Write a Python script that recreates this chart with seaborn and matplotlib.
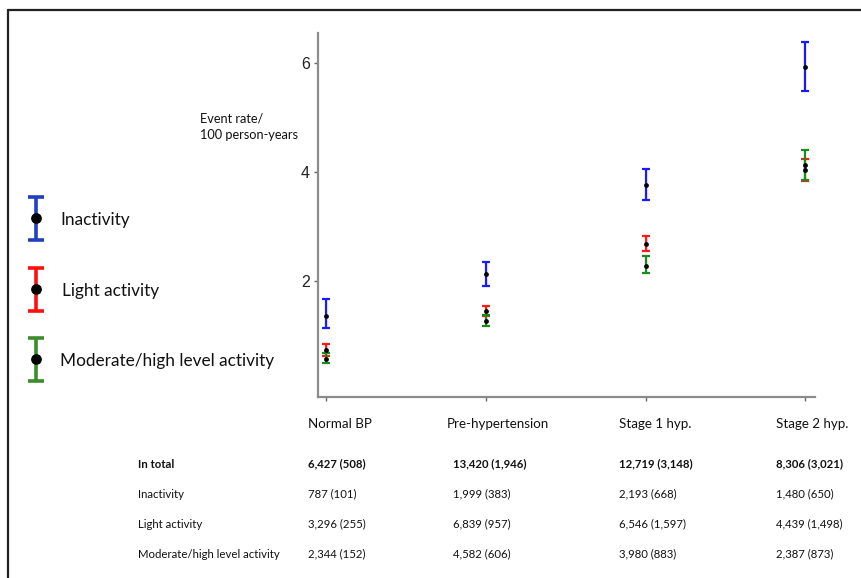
import numpy as np
import pandas as pd
import matplotlib.pyplot as plt
import seaborn as sns

# event rates per 100 person-years, with 95% CI
categories = ['Normal BP', 'Pre-hypertension', 'Stage 1 hyp.', 'Stage 2 hyp.']
groups = ['Inactivity', 'Light activity', 'Moderate/high level activity']

inactivity_rate = [1.36, 2.12, 3.76, 5.92]
inactivity_lo = [1.13, 1.91, 3.48, 5.49]
inactivity_hi = [1.66, 2.34, 4.06, 6.39]

light_rate = [0.73, 1.44, 2.68, 4.12]
light_lo = [0.62, 1.35, 2.55, 3.83]
light_hi = [0.84, 1.54, 2.83, 4.23]

moderate_rate = [0.56, 1.27, 2.28, 4.03]
moderate_lo = [0.49, 1.17, 2.15, 3.85]
moderate_hi = [0.67, 1.38, 2.45, 4.40]

yticks = [2, 4, 6]

# counts table under the plot: n (events)
row_labels = ['In total', 'Inactivity', 'Light activity', 'Moderate/high level activity']
n_total = ['6,427 (508)', '13,420 (1,946)', '12,719 (3,148)', '8,306 (3,021)']
n_inactivity = ['787 (101)', '1,999 (383)', '2,193 (668)', '1,480 (650)']
n_light = ['3,296 (255)', '6,839 (957)', '6,546 (1,597)', '4,439 (1,498)']
n_moderate = ['2,344 (152)', '4,582 (606)', '3,980 (883)', '2,387 (873)']

plot_colors = ['#1a1aff', '#ff1a1a', '#1a8c1a']
legend_colors = ['#2040c0', '#ff1010', '#3c8c2c']

df = pd.DataFrame({
    'cat': np.tile(np.arange(len(categories)), 3),
    'group': np.repeat(groups, len(categories)),
    'rate': inactivity_rate + light_rate + moderate_rate,
    'lo': inactivity_lo + light_lo + moderate_lo,
    'hi': inactivity_hi + light_hi + moderate_hi,
})

sns.set_style('white')
plt.rcParams['font.family'] = ['Liberation Sans', 'DejaVu Sans']
txt_font = ['Lato', 'DejaVu Sans']

W, H = 862, 578
fig = plt.figure(figsize=(W / 100, H / 100), dpi=100)

# main plot area
ax = fig.add_axes([318 / W, 1 - 397 / H, (815 - 318) / W, (397 - 33) / H])
for g, c in zip(groups, plot_colors):
    d = df[df['group'] == g]
    ax.errorbar(d['cat'], d['rate'], yerr=[d['rate'] - d['lo'], d['hi'] - d['rate']],
                fmt='none', ecolor=c, elinewidth=1.6, capsize=3.2, capthick=1.6, zorder=2)
sns.scatterplot(data=df, x='cat', y='rate', color='black', s=12, edgecolor='black',
                linewidth=0, legend=False, zorder=3, ax=ax)

ax.set_xlim(-0.05, 3.06)
ax.set_ylim(-0.13, 6.55)
ax.set_yticks(yticks)
ax.set_yticklabels([str(t) for t in yticks], fontsize=11.5, color='#222222')
ax.set_xticks(range(len(categories)))
ax.set_xticklabels([])
ax.set_xlabel('')
ax.set_ylabel('')
for s in ['top', 'right']:
    ax.spines[s].set_visible(False)
for s in ['left', 'bottom']:
    ax.spines[s].set_color('#8c8c8c')
    ax.spines[s].set_linewidth(1.6)
ax.tick_params(axis='both', direction='out', length=3, width=1, color='#666666', pad=3,
               left=True, bottom=True)

# overlay in pixel coordinates for legend, table and frame
ov = fig.add_axes([0, 0, 1, 1], zorder=-1)
ov.set_xlim(0, W)
ov.set_ylim(H, 0)
ov.axis('off')

ov.plot([8.5, 8.5], [10, H], color='#222222', lw=1.6)
ov.plot([8, W], [10, 10], color='#222222', lw=1.6)

ov.text(200, 127, 'Event rate/\n100 person-years', fontsize=9.2, family=txt_font,
        va='center', ha='left', linespacing=1.45, color='#111111')

# legend drawn by hand: vertical error bar glyphs
leg_y = [218, 289, 359]
for lbl, c, yc in zip(groups, legend_colors, leg_y):
    ov.errorbar([36], [yc], yerr=[[21], [22]], fmt='none', ecolor=c, elinewidth=2.6,
                capsize=5.5, capthick=2.6)
    ov.scatter([36], [yc], s=45, color='black', zorder=3)
    ov.text(60 if lbl != 'Light activity' else 62, yc + 2, lbl, fontsize=12.4,
            family=txt_font, va='center', ha='left', color='#111111')

# table
col_x = [308, 453, 619, 776]
head_x = [308, 447, 619, 776]
for x, lab in zip(head_x, categories):
    ov.text(x, 424, lab, fontsize=9.6, family=txt_font, va='center', ha='left', color='#111111')

row_y = [464, 494, 524, 554]
rows = [n_total, n_inactivity, n_light, n_moderate]
for i, (lab, vals, y) in enumerate(zip(row_labels, rows, row_y)):
    w = 'bold' if i == 0 else 'normal'
    ov.text(138, y, lab, fontsize=8.2, family=txt_font, weight=w, va='center', ha='left',
            color='#111111')
    for x, v in zip(col_x, vals):
        ov.text(x, y, v, fontsize=8.2, family=txt_font, weight=w, va='center', ha='left',
                color='#111111')

fig.savefig('out.png', dpi=100)
